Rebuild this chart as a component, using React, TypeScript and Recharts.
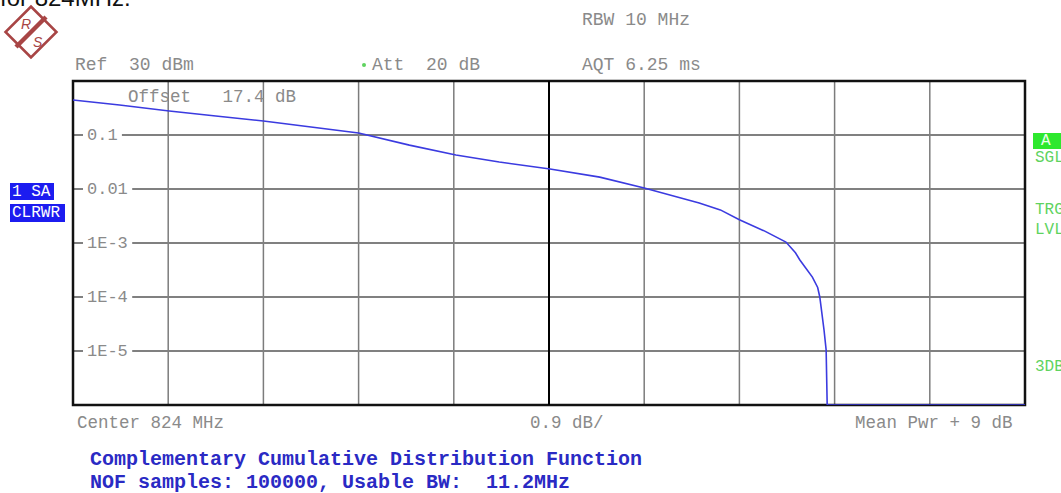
import React from 'react';
import {
  LineChart,
  Line,
  XAxis,
  YAxis,
  ReferenceLine,
  ReferenceArea,
} from 'recharts';

// level above mean power (dB) and complementary cumulative probability
const levelDb = [
  0, 0.44, 0.91, 1.35, 1.8, 2.25, 2.7, 3.18, 3.62, 4.03, 4.51, 4.98, 5.4, 5.92, 6.12,
  6.3, 6.54, 6.74, 6.83, 6.87, 6.92, 6.99, 7.04, 7.06, 7.1, 7.12, 7.13, 9.0,
];
const ccdf = [
  0.445, 0.36, 0.278, 0.225, 0.182, 0.141, 0.109, 0.065, 0.0427, 0.0316, 0.0235, 0.0166,
  0.0104, 0.0055, 0.0041, 0.0027, 0.00166, 0.00104, 0.00066, 0.00049, 0.00036, 0.000234,
  0.00015, 0.0001, 0.0000245, 0.0000105, 0.000001, 0.000001,
];

const xTicks = [0.9, 1.8, 2.7, 3.6, 5.4, 6.3, 7.2, 8.1];
const xCenter = 4.5;
const yTicks = [0.1, 0.01, 0.001, 0.0001, 0.00001];
const yTickLabels = ['0.1', '0.01', '1E-3', '1E-4', '1E-5'];

const data = levelDb.map((db, i) => ({ db, p: ccdf[i] }));

const W = 1061;
const H = 493;
const PLOT_LEFT = 73;
const PLOT_RIGHT = 1025;
const PLOT_TOP = 81;
const PLOT_BOTTOM = 405;

const MONO = '"Liberation Mono", "DejaVu Sans Mono", monospace';
const GRAY = '#8a8a8a';
const GREEN = '#5fd35f';

// label sitting on the left end of a horizontal grid line, cutting the line
const GridLabel = ({ viewBox, text }: any) => {
  if (!viewBox) return null;
  const x = viewBox.x;
  const y = viewBox.y;
  const w = text.length * 10.3;
  return (
    <g>
      <rect x={x + 10} y={y - 4} width={w + 8} height={8} fill="#fff" />
      <text
        x={x + 14}
        y={y}
        dominantBaseline="central"
        fontFamily={MONO}
        fontSize={17}
        fill={GRAY}
      >
        {text}
      </text>
    </g>
  );
};

const Logo = () => (
  <g transform="translate(31 32)">
    <g transform="rotate(45)">
      <rect x={-18} y={-18} width={36} height={36} fill="#fff" stroke="#a84545" strokeWidth={2.6} />
    </g>
    <line x1={15} y1={-15} x2={-15} y2={15} stroke="#a84545" strokeWidth={4.5} />
    <text x={-10} y={-3} fontFamily="Liberation Sans, Arial" fontSize={14} fill="#a84545" fontStyle="italic">
      R
    </text>
    <text x={2} y={15} fontFamily="Liberation Sans, Arial" fontSize={14} fill="#a84545" fontStyle="italic">
      S
    </text>
  </g>
);

const txt = (x: number, y: number, s: string, extra: any = {}) => (
  <text
    x={x}
    y={y}
    dominantBaseline="central"
    fontFamily={MONO}
    fontSize={18}
    fill={GRAY}
    style={{ whiteSpace: 'pre' }}
    {...extra}
  >
    {s}
  </text>
);

export default function App() {
  return (
    <div
      style={{
        position: 'absolute',
        left: 0,
        top: 0,
        width: W,
        height: H,
        background: '#fff',
        overflow: 'hidden',
      }}
    >
      <div style={{ position: 'absolute', left: 0, top: 0 }}>
        <LineChart
          width={W}
          height={H}
          data={data}
          margin={{
            top: PLOT_TOP,
            right: W - PLOT_RIGHT,
            bottom: H - PLOT_BOTTOM,
            left: PLOT_LEFT,
          }}
        >
          <XAxis type="number" dataKey="db" domain={[0, 9]} hide />
          <YAxis
            type="number"
            scale="log"
            domain={[0.000001, 1]}
            allowDataOverflow
            hide
          />
          {xTicks.map((t) => (
            <ReferenceLine
              key={'x' + t}
              x={t}
              stroke="#7c7c7c"
              strokeWidth={1.5}
              zIndex={-60}
            />
          ))}
          {yTicks.map((t, i) => (
            <ReferenceLine
              key={'y' + t}
              y={t}
              stroke="#808080"
              strokeWidth={2}
              zIndex={-60}
              label={<GridLabel text={yTickLabels[i]} />}
            />
          ))}
          <ReferenceLine x={xCenter} stroke="#000" strokeWidth={2} zIndex={-40} />
          <ReferenceArea
            x1={0}
            x2={9}
            y1={0.000001}
            y2={1}
            fill="none"
            stroke="#111"
            strokeWidth={2.5}
            zIndex={-50}
          />
          <Line
            type="linear"
            dataKey="p"
            stroke="#3b3be0"
            strokeWidth={1.6}
            dot={false}
            isAnimationActive={false}
          />
        </LineChart>
      </div>
      <svg
        width={W}
        height={H}
        style={{ position: 'absolute', left: 0, top: 0, pointerEvents: 'none' }}
      >
        <text x={0} y={6} fontFamily="Liberation Sans, Arial" fontSize={24} fill="#111">
          for 824MHz.
        </text>
        <Logo />
        {txt(582, 20, 'RBW 10 MHz')}
        {txt(75, 65, 'Ref  30 dBm')}
        <circle cx={364} cy={65} r={2} fill={GREEN} />
        {txt(372, 65, 'Att  20 dB')}
        {txt(582, 65, 'AQT 6.25 ms')}
        {txt(128, 97, 'Offset   17.4 dB', { fontSize: 17.5 })}
        {txt(77, 423, 'Center 824 MHz', { fontSize: 17.5 })}
        {txt(530, 423, '0.9 dB/', { fontSize: 17.5 })}
        {txt(855, 423, 'Mean Pwr + 9 dB', { fontSize: 17.5 })}
        {txt(90, 459, 'Complementary Cumulative Distribution Function', {
          fontSize: 20,
          fontWeight: 'bold',
          fill: '#2a2ac4',
        })}
        {txt(90, 482, 'NOF samples: 100000, Usable BW:  11.2MHz', {
          fontSize: 20,
          fontWeight: 'bold',
          fill: '#2a2ac4',
        })}
        <rect x={10} y={183} width={44} height={17} fill="#1c1cf0" />
        {txt(12, 192, '1 SA', { fontSize: 16, fill: '#fff' })}
        <rect x={10} y={204} width={55} height={18} fill="#1c1cf0" />
        {txt(12, 213, 'CLRWR', { fontSize: 16, fill: '#fff' })}
        <rect x={1033} y={133} width={28} height={16} fill="#2ee82e" />
        {txt(1041, 141, 'A', { fontSize: 16, fill: '#eaffea' })}
        {txt(1035, 158, 'SGL', { fontSize: 16, fill: GREEN })}
        {txt(1035, 210, 'TRG', { fontSize: 16, fill: GREEN })}
        {txt(1035, 230, 'LVL', { fontSize: 16, fill: GREEN })}
        {txt(1035, 367, '3DB', { fontSize: 16, fill: GREEN })}
      </svg>
    </div>
  );
}
